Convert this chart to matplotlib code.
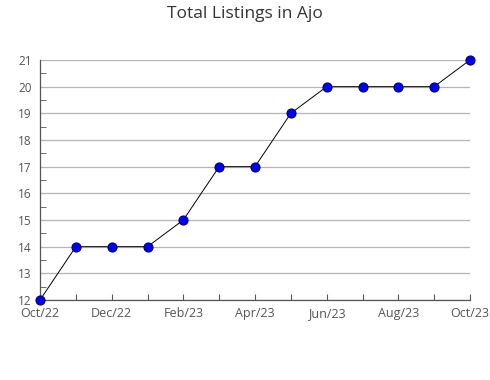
import matplotlib
matplotlib.use('Agg')
import matplotlib.pyplot as plt
from matplotlib.ticker import MultipleLocator

plt.rcParams['font.family'] = ['Open Sans', 'DejaVu Sans']

months = ['Oct/22', 'Nov/22', 'Dec/22', 'Jan/23', 'Feb/23', 'Mar/23', 'Apr/23',
          'May/23', 'Jun/23', 'Jul/23', 'Aug/23', 'Sep/23', 'Oct/23']
listings = [12, 14, 14, 14, 15, 17, 17, 19, 20, 20, 20, 20, 21]

fig = plt.figure(figsize=(4.9, 3.8), dpi=100)
ax = fig.add_axes([40/490, 1 - 300/380, 430/490, 240/380])

x = list(range(len(months)))
ax.plot(x, listings, color='black', lw=0.7, marker='o', ms=6.5,
        mfc='#0000ff', mec='#000066', mew=0.8, clip_on=False, zorder=5)

ax.set_xlim(0, len(months) - 1)
ax.set_ylim(12, 21)
ax.set_xticks(x)
ax.set_xticklabels([m if i % 2 == 0 else '' for i, m in enumerate(months)])
ax.yaxis.set_major_locator(MultipleLocator(1))
ax.yaxis.set_minor_locator(MultipleLocator(0.5))

ax.grid(axis='y', color='#b4b4b4', lw=0.9)
ax.set_axisbelow(True)
for s in ['top', 'right']:
    ax.spines[s].set_visible(False)
for s in ['left', 'bottom']:
    ax.spines[s].set_color('#555555')
    ax.spines[s].set_linewidth(0.9)

ax.tick_params(axis='x', direction='in', length=4, color='#555555',
               labelsize=9, labelcolor='#555555', pad=5)
ax.tick_params(axis='y', which='major', length=0, labelsize=8.5,
               labelcolor='#555555', pad=6)
ax.tick_params(axis='y', which='minor', direction='in', length=4, color='#555555')

fig.suptitle('Total Listings in Ajo', x=0.5, y=0.985, fontsize=12.5, color='#333333')

fig.savefig('out.png', dpi=100)
